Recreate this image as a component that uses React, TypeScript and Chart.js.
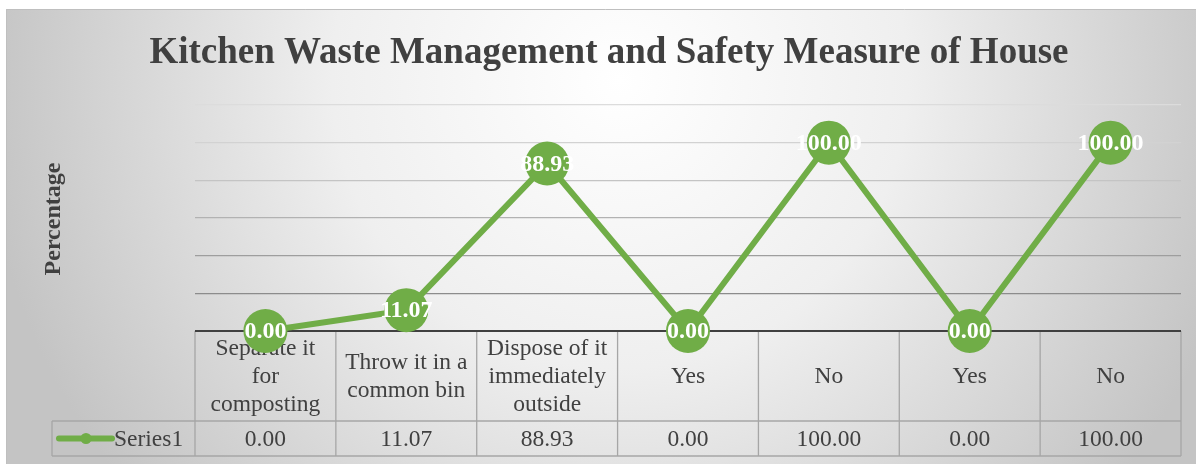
import React, { useEffect, useRef } from "react";
import { Chart, registerables } from "chart.js";

Chart.register(...registerables);

const TITLE = "Kitchen Waste Management and Safety Measure of House";
const Y_TITLE = "Percentage";
const SERIES_NAME = "Series1";
const categories: string[][] = [
  ["Separate it", "for", "composting"],
  ["Throw it in a", "common bin"],
  ["Dispose of it", "immediately", "outside"],
  ["Yes"],
  ["No"],
  ["Yes"],
  ["No"],
];
const values: number[] = [0.0, 11.07, 88.93, 0.0, 100.0, 0.0, 100.0];
const Y_MIN = 0;
const Y_MAX = 120;
const Y_STEP = 20;

const GREEN = "#70AD47";
const TEXT = "#404040";
const BORDER = "#a6a6a6";
const SERIF = "'Liberation Serif', 'Times New Roman', serif";

const VIEW_W = 1196;
const VIEW_H = 464;
const CANVAS_W = 1203;

const gridColors: Record<number, string> = {
  0: "#404040",
  20: "#8c8c8c",
  40: "#9e9e9e",
  60: "#b2b2b2",
  80: "#c4c4c4",
  100: "#d2d2d2",
  120: "#dcdcdc",
};

const excelPlugin = {
  id: "excelLook",
  beforeDraw(chart: any) {
    const { ctx, width, height } = chart;
    ctx.save();
    ctx.fillStyle = "#ffffff";
    ctx.fillRect(0, 0, width, height);
    const fx = 6;
    const fy = 9;
    const cx = 620;
    const cy = 80;
    const R = 640;
    ctx.save();
    ctx.beginPath();
    ctx.rect(fx, fy, width - fx, height - fy);
    ctx.clip();
    const g = ctx.createRadialGradient(cx, cy, 0, cx, cy, R);
    g.addColorStop(0, "#ffffff");
    g.addColorStop(0.45, "#efefef");
    g.addColorStop(1, "#c4c4c4");
    ctx.fillStyle = g;
    ctx.fillRect(fx, fy, width, height);
    ctx.restore();
    ctx.strokeStyle = "#bfbfbf";
    ctx.lineWidth = 1;
    ctx.beginPath();
    ctx.moveTo(fx + 0.5, height + 5);
    ctx.lineTo(fx + 0.5, fy + 0.5);
    ctx.lineTo(width + 5, fy + 0.5);
    ctx.stroke();

    ctx.fillStyle = TEXT;
    ctx.font = `bold 37px ${SERIF}`;
    ctx.textAlign = "center";
    ctx.textBaseline = "middle";
    ctx.fillText(TITLE, 609, 53);

    ctx.save();
    ctx.translate(54, 219);
    ctx.rotate(-Math.PI / 2);
    ctx.font = `bold 24px ${SERIF}`;
    ctx.fillText(Y_TITLE, 0, 0);
    ctx.restore();
    ctx.restore();
  },
  beforeDatasetsDraw(chart: any) {
    const { ctx, chartArea } = chart;
    const xs = chart.scales.x;
    const ys = chart.scales.y;
    const axisY = ys.getPixelForValue(0);
    const headerBottom = 421;
    const tableBottom = 456;
    const legendLeft = 52;
    const n = categories.length;
    const bounds: number[] = [chartArea.left];
    for (let i = 1; i < n; i++) {
      bounds.push((xs.getPixelForValue(i - 1) + xs.getPixelForValue(i)) / 2);
    }
    bounds.push(chartArea.right);

    ctx.save();
    ctx.strokeStyle = BORDER;
    ctx.lineWidth = 1.3;
    ctx.beginPath();
    bounds.forEach((b) => {
      ctx.moveTo(b, axisY);
      ctx.lineTo(b, tableBottom);
    });
    ctx.moveTo(legendLeft, headerBottom);
    ctx.lineTo(chartArea.right, headerBottom);
    ctx.moveTo(legendLeft, tableBottom);
    ctx.lineTo(chartArea.right, tableBottom);
    ctx.moveTo(legendLeft, headerBottom);
    ctx.lineTo(legendLeft, tableBottom);
    ctx.stroke();

    ctx.strokeStyle = TEXT;
    ctx.lineWidth = 2;
    ctx.beginPath();
    ctx.moveTo(chartArea.left, axisY);
    ctx.lineTo(chartArea.right, axisY);
    ctx.stroke();

    ctx.fillStyle = TEXT;
    ctx.font = `23.5px ${SERIF}`;
    ctx.textAlign = "center";
    ctx.textBaseline = "middle";
    const headerMid = (axisY + headerBottom) / 2 + 1;
    const lh = 28;
    categories.forEach((lines, i) => {
      const x = xs.getPixelForValue(i);
      const y0 = headerMid - ((lines.length - 1) * lh) / 2;
      lines.forEach((ln, j) => ctx.fillText(ln, x, y0 + j * lh));
    });
    const rowMid = (headerBottom + tableBottom) / 2 + 1;
    values.forEach((v, i) => {
      ctx.fillText(v.toFixed(2), xs.getPixelForValue(i), rowMid);
    });

    ctx.strokeStyle = GREEN;
    ctx.lineWidth = 6;
    ctx.lineCap = "round";
    ctx.beginPath();
    ctx.moveTo(59, rowMid - 1);
    ctx.lineTo(112, rowMid - 1);
    ctx.stroke();
    ctx.fillStyle = GREEN;
    ctx.beginPath();
    ctx.arc(86, rowMid - 1, 5.5, 0, Math.PI * 2);
    ctx.fill();
    ctx.fillStyle = TEXT;
    ctx.textAlign = "left";
    ctx.fillText(SERIES_NAME, 114, rowMid);
    ctx.restore();
  },
  afterDatasetsDraw(chart: any) {
    const { ctx } = chart;
    const meta = chart.getDatasetMeta(0);
    ctx.save();
    ctx.fillStyle = "#ffffff";
    ctx.font = `bold 24px ${SERIF}`;
    ctx.textAlign = "center";
    ctx.textBaseline = "middle";
    meta.data.forEach((pt: any, i: number) => {
      ctx.fillText(values[i].toFixed(2), pt.x, pt.y + 1);
    });
    ctx.restore();
  },
};

export default function App() {
  const ref = useRef<HTMLCanvasElement | null>(null);
  useEffect(() => {
    if (!ref.current) return;
    const chart = new Chart(ref.current, {
      type: "line",
      data: {
        labels: categories.map((c) => c.join(" ")),
        datasets: [
          {
            label: SERIES_NAME,
            data: values,
            borderColor: GREEN,
            backgroundColor: GREEN,
            borderWidth: 6,
            pointRadius: 22,
            pointHoverRadius: 22,
            pointBorderWidth: 0,
            pointBackgroundColor: GREEN,
            tension: 0,
            clip: false as any,
          },
        ],
      },
      options: {
        responsive: false,
        animation: false,
        events: [],
        layout: { padding: { left: 195, right: 22, top: 105, bottom: 133 } },
        plugins: {
          legend: { display: false },
          title: { display: false },
          tooltip: { enabled: false },
        },
        scales: {
          x: { display: false, offset: true },
          y: {
            min: Y_MIN,
            max: Y_MAX,
            ticks: { stepSize: Y_STEP, display: false },
            grid: {
              drawTicks: false,
              color: (c: any) => gridColors[c.tick?.value] ?? "#cccccc",
              lineWidth: (c: any) => (c.tick?.value === 0 ? 2 : 1.3),
            },
            border: { display: false },
          },
        },
      },
      plugins: [excelPlugin],
    });
    return () => chart.destroy();
  }, []);
  return (
    <div
      style={{
        position: "absolute",
        left: 0,
        top: 0,
        width: VIEW_W,
        height: VIEW_H,
        overflow: "hidden",
      }}
    >
      <canvas ref={ref} width={CANVAS_W} height={VIEW_H} style={{ display: "block" }} />
    </div>
  );
}
